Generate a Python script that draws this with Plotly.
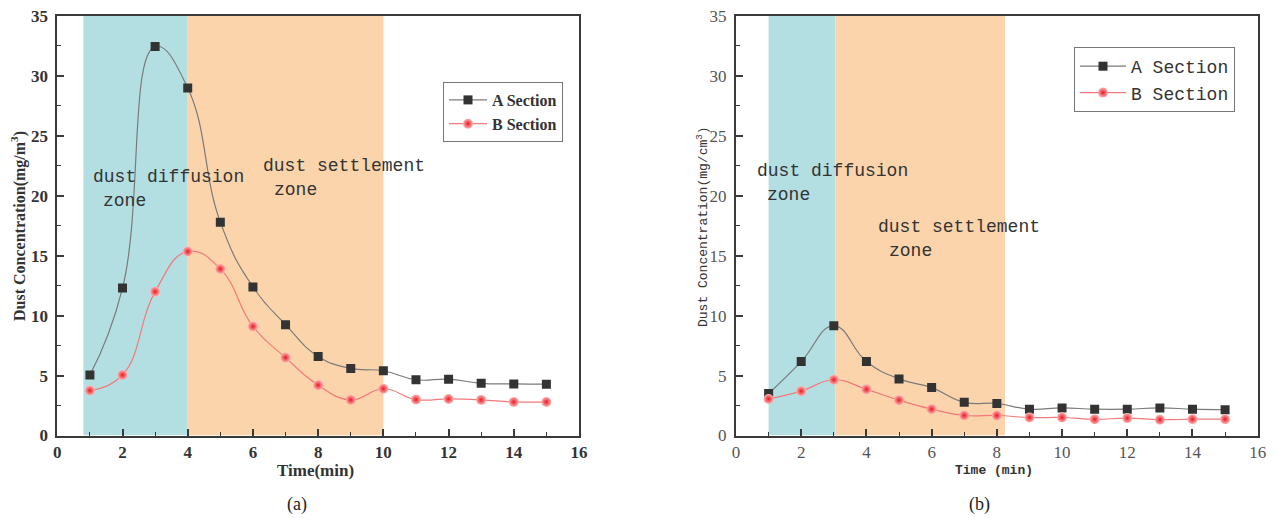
import plotly.graph_objects as go

# ---------------- data ----------------
time_min = list(range(1, 16))

a_section_left = [5.05, 12.3, 32.45, 29.0, 17.8, 12.4, 9.25, 6.6, 5.6, 5.4, 4.65, 4.7, 4.35, 4.3, 4.28]
b_section_left = [3.75, 5.05, 12.0, 15.35, 13.9, 9.1, 6.5, 4.2, 2.97, 3.9, 3.0, 3.05, 2.97, 2.8, 2.8]

a_section_right = [3.5, 6.17, 9.15, 6.17, 4.72, 4.0, 2.77, 2.67, 2.2, 2.3, 2.2, 2.2, 2.3, 2.2, 2.15]
b_section_right = [3.05, 3.7, 4.65, 3.85, 2.95, 2.2, 1.67, 1.67, 1.5, 1.5, 1.35, 1.45, 1.32, 1.36, 1.36]

zone_bounds_left = [0.8, 4.0, 10.0]     # diffusion: [0]-[1], settlement: [1]-[2]
zone_bounds_right = [1.0, 3.05, 8.25]

x_ticks = [0, 2, 4, 6, 8, 10, 12, 14, 16]
y_ticks = [0, 5, 10, 15, 20, 25, 30, 35]

series_names = ["A Section", "B Section"]
panel_labels = ["(a)", "(b)"]

# ---------------- styles ----------------
OFF = 8                      # page body margin of the html page
W, H = 1276 - OFF, 518 - OFF
CYAN = "#b3dfe3"
ORANGE = "#fbd4ab"
AXIS_COL = "#3a3a3a"
A_LINE = "#7a7a7a"
B_LINE = "#f27a7a"
SERIF = "Liberation Serif"
MONO = "Liberation Mono"


def px_x(p):
    return (p - OFF) / W


def px_y(p):
    return 1 - (p - OFF) / H


fig = go.Figure()

panels = [
    dict(xa="x", ya="y", legend="legend",
         a=a_section_left, b=b_section_left, zones=zone_bounds_left,
         dom=[px_x(57.3), px_x(579)]),
    dict(xa="x2", ya="y2", legend="legend2",
         a=a_section_right, b=b_section_right, zones=zone_bounds_right,
         dom=[px_x(736), px_x(1257.7)]),
]

for p in panels:
    fig.add_trace(go.Scatter(
        x=time_min, y=p["a"], name=series_names[0], mode="lines+markers",
        line=dict(color=A_LINE, width=1.2, shape="spline", smoothing=1.3),
        marker=dict(symbol="square", size=9, color="#333333"),
        xaxis=p["xa"], yaxis=p["ya"], legend=p["legend"]))
    fig.add_trace(go.Scatter(
        x=time_min, y=p["b"], name=series_names[1], mode="lines+markers",
        line=dict(color=B_LINE, width=1.2, shape="spline", smoothing=1.3),
        marker=dict(symbol="circle", size=10, color="#ffb4b4",
                    gradient=dict(type="radial", color="#e81820")),
        xaxis=p["xa"], yaxis=p["ya"], legend=p["legend"]))
    z = p["zones"]
    fig.add_shape(type="rect", xref=p["xa"], yref=p["ya"], x0=z[0], x1=z[1], y0=0, y1=35,
                  fillcolor=CYAN, line=dict(width=0), layer="below")
    fig.add_shape(type="rect", xref=p["xa"], yref=p["ya"], x0=z[1], x1=z[2], y0=0, y1=35,
                  fillcolor=ORANGE, line=dict(width=0), layer="below")

y_dom = [px_y(435.5), px_y(16)]


def x_axis(dom, anchor, bold, size, color):
    return dict(
        domain=dom, anchor=anchor, range=[0, 16], tickvals=x_ticks, ticks="inside", ticklen=7,
        tickwidth=1.5, tickcolor=AXIS_COL, showline=True, linecolor=AXIS_COL, linewidth=2,
        mirror=True, showgrid=False, zeroline=False, automargin=False, ticklabeloverflow="allow",
        minor=dict(ticks="inside", ticklen=4, tickwidth=1.2, tickcolor=AXIS_COL, dtick=1, tick0=0),
        tickfont=dict(family=SERIF, size=size, color=color, weight="bold" if bold else "normal"),
    )


def y_axis(anchor, bold, size, color):
    return dict(
        domain=y_dom, anchor=anchor, range=[0, 35], tickvals=y_ticks, ticks="inside", ticklen=7,
        tickwidth=1.5, tickcolor=AXIS_COL, showline=True, linecolor=AXIS_COL, linewidth=2,
        mirror=True, showgrid=False, zeroline=False, ticklabelstandoff=4, automargin=False,
        ticklabeloverflow="allow",
        minor=dict(ticks="inside", ticklen=4, tickwidth=1.2, tickcolor=AXIS_COL, dtick=2.5, tick0=0),
        tickfont=dict(family=SERIF, size=size, color=color, weight="bold" if bold else "normal"),
    )


fig.update_layout(
    xaxis=x_axis(panels[0]["dom"], "y", True, 17, "#333"),
    xaxis2=x_axis(panels[1]["dom"], "y2", False, 17, "#555"),
    yaxis=y_axis("x", True, 17, "#333"),
    yaxis2=y_axis("x2", False, 17, "#555"),
    legend=dict(x=px_x(443), y=px_y(82), xanchor="left", yanchor="top",
                bgcolor="rgba(255,255,255,0)", bordercolor="#777", borderwidth=1,
                font=dict(family=SERIF, size=16, color="#333", weight="bold"),
                tracegroupgap=0, itemwidth=38),
    legend2=dict(x=px_x(1074), y=px_y(47), xanchor="left", yanchor="top",
                 bgcolor="rgba(255,255,255,0)", bordercolor="#777", borderwidth=1,
                 font=dict(family=MONO, size=18, color="#333"),
                 tracegroupgap=0, itemwidth=46),
    width=W, height=H, margin=dict(l=0, r=0, t=0, b=0, autoexpand=False),
    plot_bgcolor="white", paper_bgcolor="white",
)

zone_text = dict(family=MONO, size=18, color="#333")
ann = [
    # left panel zone labels
    dict(text="dust diffusion", x=3.4, y=21.6, xref="x", yref="y"),
    dict(text="zone", x=2.05, y=19.6, xref="x", yref="y"),
    dict(text="dust settlement", x=8.8, y=22.5, xref="x", yref="y"),
    dict(text="zone", x=7.3, y=20.5, xref="x", yref="y"),
    # right panel zone labels
    dict(text="dust diffusion", x=2.95, y=22.1, xref="x2", yref="y2"),
    dict(text="zone", x=1.6, y=20.1, xref="x2", yref="y2"),
    dict(text="dust settlement", x=6.85, y=17.4, xref="x2", yref="y2"),
    dict(text="zone", x=5.35, y=15.4, xref="x2", yref="y2"),
]
for a in ann:
    fig.add_annotation(showarrow=False, font=zone_text, xanchor="center", yanchor="middle", **a)

centered = dict(xref="paper", yref="paper", showarrow=False, xanchor="center", yanchor="middle")
# axis titles
fig.add_annotation(text="Time(min)", x=px_x(315), y=px_y(470),
                   font=dict(family=SERIF, size=17, color="#333", weight="bold"), **centered)
fig.add_annotation(text="Time (min)", x=px_x(994), y=px_y(470),
                   font=dict(family=MONO, size=13, color="#333", weight="bold"), **centered)
fig.add_annotation(text="Dust Concentration(mg/m<sup>3</sup>)", x=px_x(18), y=px_y(226),
                   textangle=-90, font=dict(family=SERIF, size=16, color="#333", weight="bold"),
                   **centered)
fig.add_annotation(text="Dust Concentration(mg/cm<sup>3</sup>)", x=px_x(702), y=px_y(227),
                   textangle=-90, font=dict(family=MONO, size=13, color="#333"), **centered)
# panel labels
fig.add_annotation(text=panel_labels[0], x=px_x(297), y=px_y(504),
                   font=dict(family=SERIF, size=18, color="#222"), **centered)
fig.add_annotation(text=panel_labels[1], x=px_x(979), y=px_y(504),
                   font=dict(family=SERIF, size=18, color="#222"), **centered)

fig.write_html("out.html")
